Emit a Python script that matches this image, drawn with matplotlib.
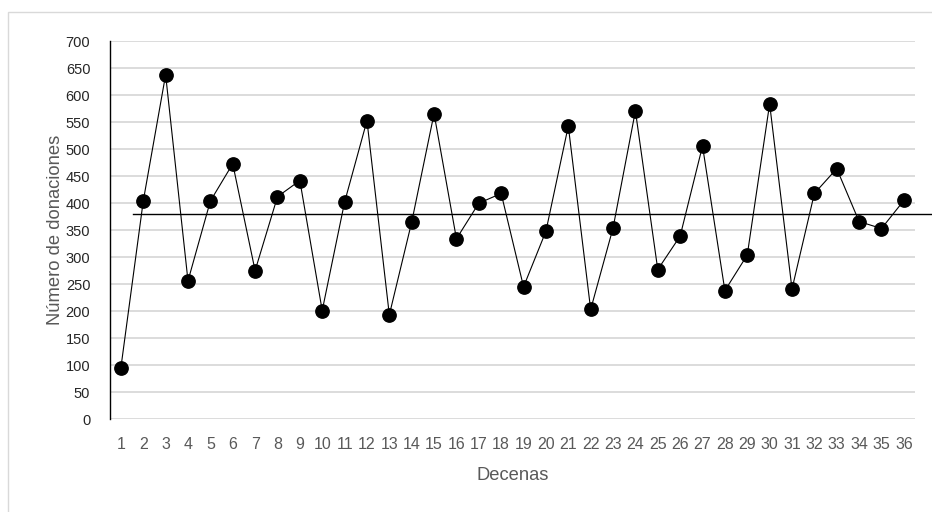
import matplotlib.pyplot as plt
from matplotlib.patches import Rectangle

# Donaciones por decena
decenas = list(range(1, 37))
donaciones = [95, 404, 638, 256, 404, 473, 275, 412, 442, 201,
              402, 553, 193, 365, 566, 334, 400, 418, 245, 348,
              543, 203, 354, 571, 277, 339, 506, 238, 304, 584,
              241, 418, 464, 366, 353, 405]
promedio = 380
y_ticks = list(range(0, 701, 50))

font = ['Liberation Sans', 'DejaVu Sans']

fig = plt.figure(figsize=(9.32, 5.12), dpi=100)
ax = fig.add_axes([0.1177, 0.1816, 0.8641, 0.7377])

# marco exterior del grafico (solo se ven los bordes superior e izquierdo)
fig.patches.append(Rectangle((8 / 932, -0.2), 1.2, 1.2 - 12 / 512,
                             transform=fig.transFigure, fill=False,
                             edgecolor='#d9d9d9', linewidth=1.0))

ax.plot(decenas, donaciones, color='black', linewidth=0.8, marker='o',
        markersize=9.6, markerfacecolor='black', markeredgecolor='black',
        zorder=3)

# linea del promedio
ax.plot([1.55, 37.3], [promedio, promedio], color='black', linewidth=1.0,
        clip_on=False, zorder=2)

ax.set_xlim(0.5, 36.5)
ax.set_ylim(0, 700)
ax.set_xticks(decenas)
ax.set_xticklabels([str(d) for d in decenas], family=font, fontsize=11.5,
                   color='#595959')
ax.set_yticks(y_ticks)
ax.set_yticklabels([str(v) for v in y_ticks], family=font, fontsize=10.5,
                   color='#262626')
ax.tick_params(axis='both', length=0)
ax.tick_params(axis='x', pad=13)
ax.tick_params(axis='y', pad=14)

ax.grid(True, axis='y', color='#d9d9d9', linewidth=1.3)
ax.set_axisbelow(True)
for side in ['top', 'right', 'bottom']:
    ax.spines[side].set_visible(False)
ax.spines['left'].set_color('black')
ax.spines['left'].set_linewidth(1.0)

ax.set_xlabel('Decenas', family=font, fontsize=13.2, color='#595959', labelpad=11)
ax.set_ylabel('Número de donaciones', family=font, fontsize=13.2,
              color='#595959')
ax.yaxis.set_label_coords(-0.057, 0.5)

fig.savefig('out.png', dpi=100)
